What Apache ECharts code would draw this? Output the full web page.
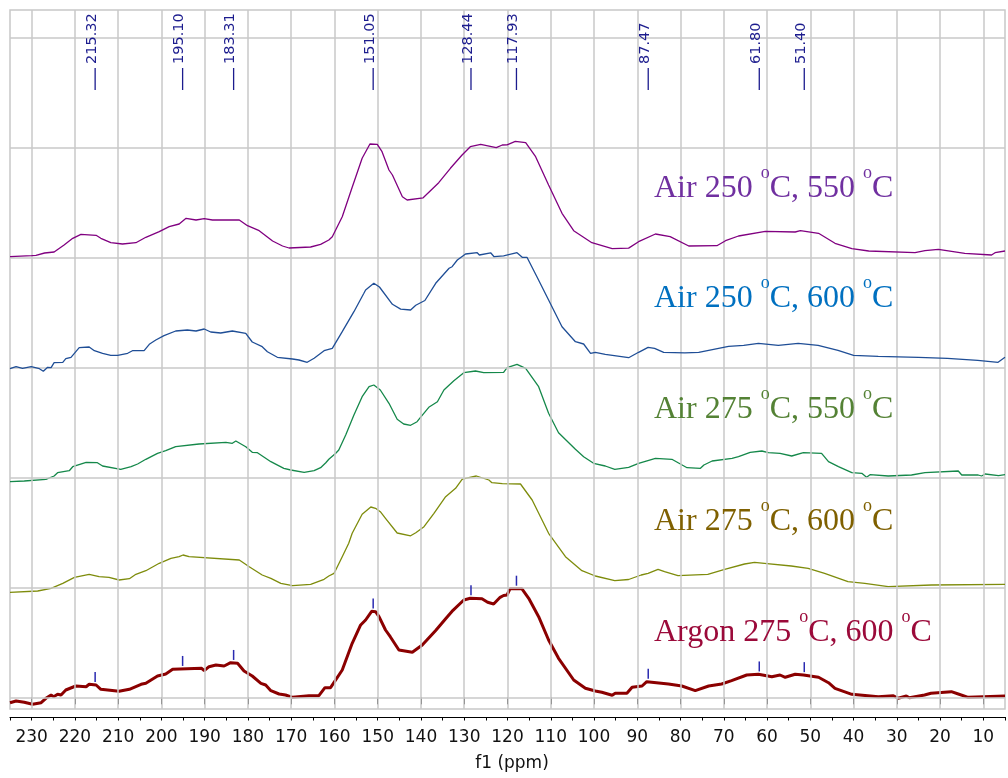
<!DOCTYPE html>
<html><head><meta charset="utf-8">
<script src="https://cdn.jsdelivr.net/npm/echarts@6/dist/echarts.min.js"></script>
<style>html,body{margin:0;padding:0;background:#fff}#c{width:1008px;height:778px}</style>
</head><body><div id="c"></div>
<script>
// x axis major tick labels (ppm)
const xMajor = [230,220,210,200,190,180,170,160,150,140,130,120,110,100,90,80,70,60,50,40,30,20,10];
// stacked-trace baselines (intensity units) and horizontal grid rows
const baselines = [0,110,220,330,440];
const yGrid = [0,110,220,330,440,550,660];

// peak picks
const peakPpm = [215.32,195.10,183.31,151.05,128.44,117.93,87.47,61.80,51.40];
const peakText = ['215.32','195.10','183.31','151.05','128.44','117.93','87.47','61.80','51.40'];

const seriesNames = ['Argon 275 \u00B0C, 600 \u00B0C','Air 275 \u00B0C, 600 \u00B0C','Air 275 \u00B0C, 550 \u00B0C','Air 250 \u00B0C, 600 \u00B0C','Air 250 \u00B0C, 550 \u00B0C'];

// spectra: [ppm, intensity above own baseline]
const argon = [[235,-5.4],[233.6,-3.7],[231.7,-5],[229.8,-7],[227.8,-5.4],[226.7,-1],[225.5,2.3],[224.9,0.6],[224,3],[223.2,2.3],[222.1,7.3],[219.8,11.3],[217.4,10.6],[216.7,13],[215.1,12.3],[214,8],[209.8,6],[207.4,8],[204.7,13],[203.6,14],[200.9,21.3],[199,23.3],[197.4,28],[190.7,29],[190.1,26.6],[189,30.6],[187.4,32.3],[185.5,31.3],[184,34.6],[182.4,34],[180.9,26.3],[179,21.3],[177,14],[175.9,12.3],[174.7,6.6],[172.8,3.3],[171.3,2.3],[169.7,0],[165.9,1.6],[163.6,1.6],[162.2,9.6],[160.9,9.6],[158.2,27.3],[155.9,54],[154,72],[152.8,77.3],[151.4,86],[150.5,85.6],[149.7,80.6],[148.2,67.3],[147.1,60.6],[145.1,47.3],[144.7,46.3],[142,45],[141.6,45],[139.7,52.3],[136.6,66.8],[134.2,79],[132.6,87],[130.1,97.3],[128.6,99],[125.9,98.5],[124.6,95],[123.2,93.3],[121.7,100],[120.9,101.8],[120.1,102.3],[119.4,108.6],[116.7,108.6],[115.1,99],[112.8,80.6],[110.5,57.3],[108.2,39],[104.7,17.3],[102,9],[99.7,6.3],[98.2,5],[95.8,2],[95.1,4],[92.4,4],[91.2,10],[88.9,11.3],[87.8,15.6],[82.8,13.3],[79.7,11.3],[76.6,6.6],[73.5,11.3],[70.5,13.3],[68.2,16.6],[64.7,22.3],[62,23],[58.9,20.6],[57,22.3],[55.8,20],[53.5,23],[51.6,22.3],[48.1,20],[45.8,14.6],[44.3,9],[40.4,3],[34.3,0.6],[30.8,1.6],[29.7,-1],[27.8,1.3],[27.1,-0.4],[23.6,2.3],[22.1,4],[17.4,5.6],[15.8,3.3],[13.5,0],[5,1.3]];

const air275_600 = [[235,-5],[228.6,-3.7],[225.5,-1],[222.8,4],[220.1,10],[216.7,13],[214.4,10.6],[212.1,10],[209.8,7.3],[207.4,8.6],[205.9,13],[203.6,16.6],[200.5,24],[197.8,29],[195.9,30.6],[195,32.3],[193.6,30.6],[182,27.3],[179.7,20.6],[176.7,12.3],[174.7,9],[172.4,4],[169.7,1.6],[165.5,3],[162.4,8],[161.3,11.3],[160.1,14],[159.7,17.3],[158.2,30.6],[156.7,44],[155.9,54],[153.6,73],[151.6,80.3],[150.5,79],[149.4,75.6],[148.2,69],[145.5,54.3],[142.4,51.5],[141.2,54.6],[139.3,60.6],[137,74],[134.3,90.6],[132,99],[130.5,108],[129.7,109],[127.2,111.3],[124.3,107.3],[123.6,104.6],[121.2,103.6],[117,103.3],[114.3,87.3],[110.5,54],[106.6,30.6],[102.8,16.6],[99.7,11.3],[95.2,6.6],[92,7.8],[89.1,12.3],[87.5,14],[85.2,18],[83.7,15.6],[80.6,11.6],[73.7,13],[69.8,18],[65.2,23.3],[62.9,25],[60.6,24],[54.4,21.3],[50.5,19],[46.7,14],[41.3,5.6],[37.4,4],[32,0.6],[22,2.3],[5,3]];

const air275_550 = [[235,-4.4],[231.7,-3.7],[231.3,-2],[226.7,-2],[226.3,0],[224.8,1.3],[224,4.6],[221.3,6.6],[220.5,10.6],[217.4,15],[214.8,14.6],[213.6,11.3],[209.4,8],[207,10.6],[205.5,13.3],[203.6,18],[200.9,24],[199,26.6],[196.7,30.6],[191.3,33.3],[185.1,35],[183.6,34],[182.8,36.3],[180.5,30.6],[179,25],[177.8,24.6],[174.7,15.6],[171.7,9],[170.1,7.3],[167,5],[164.7,6.6],[163.2,9.6],[162,14.6],[161.3,18],[159.7,24],[159,27.3],[157.4,42.3],[155.5,62.3],[153.6,80.6],[152,90.6],[150.9,92.3],[149.4,87.3],[147.4,74],[145.5,58],[144,53.3],[142.4,52],[140.9,55.6],[140.3,59],[138.2,70],[136.2,75.6],[134.7,87.3],[132.4,96.6],[130.1,104.6],[127.4,106.3],[125.5,104.6],[120.9,105],[120.1,109.6],[117.8,113],[115.8,109],[112.8,90.6],[110.5,64],[108.2,44.6],[104.3,28],[102.4,20.6],[100.1,14],[97.4,11.3],[95.2,8],[92,10],[89.7,14],[85.8,19],[82,18],[78.5,9.6],[75.4,9],[74.6,12.3],[72.7,16.3],[68.1,19],[66.6,20.6],[63.9,25],[61.2,26.3],[59.7,24.6],[57,24],[54.3,21.3],[51.6,24.6],[47.4,24],[45.8,15.6],[43.5,10.6],[40.4,4.6],[38.1,4],[37,0],[36.2,2.6],[32,1.3],[26.6,2.3],[23.5,4.6],[15.8,6.3],[15,2.3],[11.2,2.3],[10.4,1.3],[9.6,3.3],[6.5,1.6],[5,2.6]];

const air250_600 = [[235,-1.4],[233.6,0.6],[232.1,-1],[230.1,0.6],[228.2,-1.4],[227.3,-4],[226.3,0],[225.5,-0.3],[224.8,4.6],[222.8,5],[222.1,8.6],[220.9,10],[219,19.6],[216.7,20.3],[215.5,16.6],[213.6,14],[211.7,12],[210.1,12],[209.8,10],[207.8,14],[206.7,16.6],[204,16.6],[202.8,23],[201.3,27.3],[199.4,31.6],[196.7,36.3],[194,37.3],[192,36.3],[190.1,38.3],[188.6,35.3],[186.3,34.3],[183.6,36.3],[183.2,35],[180.5,34],[179,25.3],[176.7,20.6],[175.5,15.6],[173.2,10],[169.7,8.3],[168.2,7.3],[166.3,5],[164.7,9],[162.4,16.6],[160.5,19],[158.2,35.6],[155.5,55.6],[153.2,74],[152.8,77.3],[150.9,84],[149.6,80.3],[146.6,63],[144.7,58.2],[142.4,57.3],[141.2,62],[139.1,66.8],[136.6,84],[133.5,99],[132.8,100.6],[131.6,107.3],[129.7,113.3],[127,114.6],[126.5,112.3],[123.9,114.5],[123.1,110.6],[120.9,111.5],[117.8,114.6],[116.6,110],[115.5,110],[113.2,90.6],[110.5,67.3],[107.4,40.6],[104.3,25.6],[102.4,23.3],[100.8,14],[99.7,15],[97.4,13],[92,9.6],[89.7,15],[87.5,20],[86,19],[83.9,15],[79,14.5],[75.8,15],[73.5,17],[68.9,21],[65.4,22],[62,24],[57.4,22],[52.8,24],[48.2,22],[43.6,17],[40,12],[34.3,11],[25,10],[18.3,9],[11.3,7],[6.6,5],[5,10]];

const air250_550 = [[235,0.6],[230,1.6],[229,2],[227,4.3],[224.8,5.3],[222.5,12.3],[220.5,19],[218.6,23],[215.1,22],[214,19],[211.7,14.6],[209,13.3],[205.9,14.6],[203.6,20],[200.5,25.6],[198.2,30.6],[195.9,33.3],[194.3,39],[192,37.3],[190.1,38.6],[188.2,37.3],[182,37.3],[180.1,31.6],[177.4,26.6],[174.3,16.3],[172,11.3],[170.5,9.3],[165.5,10.3],[163.2,13],[161.3,17.3],[160.5,20.6],[158.2,40.6],[155.9,70],[153.6,99],[151.8,113.3],[150.1,113],[149,105.6],[147.4,87.3],[146.6,82.3],[144.3,60.6],[143.2,57.3],[142.8,57],[139.5,59.5],[135.9,74.6],[133.2,89],[130.5,102.3],[128.6,110.6],[126.2,113],[122.6,109.6],[121.2,112.3],[120.1,112.5],[118.2,116],[115.8,114.6],[113.5,100.6],[110.5,72.3],[107.4,44],[104.7,26.6],[100.5,14.6],[95.8,8.6],[92,9.2],[89.7,15.6],[85.8,23.3],[82.4,20.6],[78.1,11.3],[71.6,11.6],[69.6,16.6],[66.6,21.3],[60.4,26],[53.5,25.3],[52.3,26.6],[48.1,24],[44.3,14],[40.4,8.6],[36.5,6.3],[25.8,4.6],[23.5,6.6],[20.4,8],[14.3,4],[8.1,2.3],[7.3,4.6],[5,6.3]];

const spectra = [argon, air275_600, air275_550, air250_600, air250_550];
const lineColors = ['#8B0000','#7E8C0C','#15884A','#1F4E96','#800080'];
const textColors = ['#9B0A3A','#7F6000','#548235','#0070C0','#7030A0'];
const lineWidths = [3,1.3,1.3,1.3,1.3];

function argonAt(p){
  for(let i=0;i<argon.length-1;i++){
    const a=argon[i], b=argon[i+1];
    if(p<=a[0] && p>=b[0]){ const t=(a[0]-p)/(a[0]-b[0]); return a[1]+t*(b[1]-a[1]); }
  }
  return 0;
}

const chart = echarts.init(document.getElementById('c'), null, {renderer:'canvas'});

const series = [];
// grid lines
series.push({
  type:'line', data:[[100,-1000]], showSymbol:false, silent:true, z:0,
  lineStyle:{opacity:0},
  markLine:{silent:true, symbol:'none', animation:false, label:{show:false},
    lineStyle:{color:'#c8c8c8', width:1.5, type:'solid'},
    emphasis:{disabled:true},
    data:[...xMajor.map(v=>({xAxis:v})), ...yGrid.map(v=>({yAxis:v}))]}
});
spectra.forEach((s,i)=>{
  series.push({
    name: seriesNames[i], type:'line', z:2+i,
    data: s.map(d=>[d[0], d[1]+baselines[i]]),
    showSymbol:false, smooth:false, animation:false,
    lineStyle:{color:lineColors[i], width:lineWidths[i]},
    itemStyle:{color:lineColors[i]}
  });
});
// peak labels
series.push({
  type:'custom', z:10, animation:false, silent:true,
  data: peakPpm.map((p,i)=>[p, argonAt(p), i]),
  renderItem:function(params, api){
    const x = api.coord([api.value(0), 0])[0];
    const yc = api.coord([0, api.value(1)])[1];
    const top = params.coordSys.y;
    const col = '#1c1c8e';
    return {type:'group', children:[
      {type:'line', shape:{x1:x,y1:top+58,x2:x,y2:top+80}, style:{stroke:col, lineWidth:1.3}},
      {type:'text', x:x-3, y:top+54, rotation:Math.PI/2,
        style:{text:peakText[api.value(2)], fill:col, font:'14.5px "DejaVu Sans"', align:'left', verticalAlign:'middle'}},
      {type:'line', shape:{x1:x,y1:yc-13,x2:x,y2:yc-3}, style:{stroke:'#2a2ab0', lineWidth:1.5}}
    ]};
  }
});

const legendTops = [622, 511, 399, 288, 178];
const graphics = spectra.map((s,i)=>({
  type:'text', left:654, top:legendTops[i]-14, z:20,
  style:{
    text: (function(n){ const parts=n.split('\u00B0'); return '{a|'+parts[0]+'}{s|o}{a|'+parts[1]+'}{s|o}{a|'+parts[2]+'}'; })(seriesNames[i]),
    rich:{
      a:{fontFamily:'"Liberation Serif"', fontSize:32, lineHeight:50, fill:textColors[i]},
      s:{fontFamily:'"Liberation Serif"', fontSize:18, lineHeight:18, verticalAlign:'top', fill:textColors[i]}
    }
  }
}));

chart.setOption({
  animation:false,
  backgroundColor:'#fff',
  grid:{left:10, top:10, right:1, bottom:69, show:true, borderColor:'#c8c8c8', borderWidth:1.5, backgroundColor:'transparent'},
  xAxis:[{
    type:'value', inverse:true, min:5, max:235, interval:5, offset:8,
    axisLine:{show:true, onZero:false, lineStyle:{color:'#000', width:1}},
    axisTick:{show:true, length:3.5, lineStyle:{color:'#000'}},
    axisLabel:{fontFamily:'"DejaVu Sans"', fontSize:17, color:'#111', margin:12,
      formatter:function(v){ return xMajor.indexOf(v)>=0 ? String(v) : ''; }},
    splitLine:{show:false},
    name:'f1 (ppm)', nameLocation:'middle', nameGap:38,
    nameTextStyle:{fontFamily:'"DejaVu Sans"', fontSize:17, color:'#111', padding:[0,0,0,9]}
  },{
    type:'value', inverse:true, min:5, max:235, offset:8, position:'bottom',
    axisLine:{show:false},
    axisTick:{show:true, length:7, customValues:xMajor, lineStyle:{color:'#000'}},
    axisLabel:{show:false}, splitLine:{show:false}
  }],
  yAxis:{type:'value', min:-11.7, max:687.3, show:false, splitLine:{show:false}},
  series: series,
  graphic: graphics
});
</script></body></html>
